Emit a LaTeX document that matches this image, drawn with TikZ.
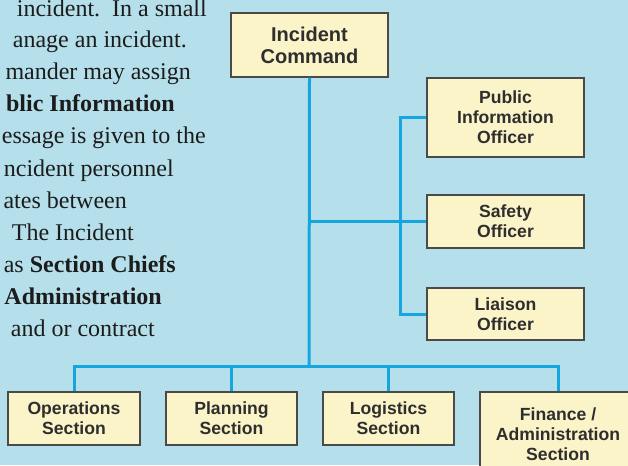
\documentclass[tikz,border=0pt]{standalone}
\usepackage{fontspec}
\setmainfont{Liberation Serif}
\setsansfont{Liberation Sans}
\begin{document}
\begin{tikzpicture}[x=1pt,y=-1pt,
  bg/.style={fill=bgblue},
  orgbox/.style={draw=boxedge,line width=1.4pt,fill=boxfill,inner sep=0pt,align=center,
    font=\sffamily\bfseries\fontsize{17.6}{20}\selectfont,text=boxtext},
  bigbox/.style={orgbox,font=\sffamily\bfseries\fontsize{20}{22}\selectfont},
  conn/.style={draw=linkblue,line width=3pt},
  para/.style={anchor=base east,inner sep=0pt,font=\fontsize{24}{32}\selectfont,text=paratext}]
\definecolor{bgblue}{HTML}{B5E0EB}
\definecolor{boxfill}{HTML}{FBF4C9}
\definecolor{boxedge}{HTML}{4A4A48}
\definecolor{boxtext}{HTML}{2E2E2E}
\definecolor{linkblue}{HTML}{15A6E0}
\definecolor{paratext}{HTML}{1C1C1C}
\useasboundingbox (0,0) rectangle (628,465);
\fill[bg] (0,0) rectangle (628,465);

% paragraph fragments
\node[para] (p1) at (207,17) {incident.\enspace In a small};
\node[para] (p2) at (187,48) {anage an incident.};
\node[para] (p3) at (191,80) {mander may assign};
\node[para] (p4) at (175,112) {\bfseries blic Information};
\node[para] (p5) at (206,144) {essage is given to the};
\node[para] (p6) at (174,176) {ncident personnel};
\node[para] (p7) at (127,208) {ates between};
\node[para] (p8) at (134,240) {The Incident};
\node[para] (p9) at (176,272) {as \bfseries Section Chiefs};
\node[para] (p10) at (162,304) {\bfseries Administration};
\node[para] (p11) at (155,336) {and or contract};

% boxes
\node[bigbox,minimum width=157,minimum height=64] (ic) at (309.5,45) {Incident\\Command};
\node[orgbox,minimum width=157,minimum height=79] (pio) at (505.5,117.5) {Public\\Information\\Officer};
\node[orgbox,minimum width=157,minimum height=53] (saf) at (505.5,221.5) {Safety\\Officer};
\node[orgbox,minimum width=157,minimum height=52] (lia) at (505.5,314) {Liaison\\Officer};
\node[orgbox,minimum width=132,minimum height=53] (ops) at (74,418.5) {Operations\\Section};
\node[orgbox,minimum width=131,minimum height=53] (plan) at (231.5,418.5) {Planning\\Section};
\node[orgbox,minimum width=131,minimum height=53] (logi) at (388.5,418.5) {Logistics\\Section};
\node[orgbox,minimum width=156,minimum height=84] (fin) at (558,434) {Finance /\\Administration\\Section};

% connectors
\coordinate (hub) at (309,366);
\coordinate (sj) at (309,221.5);
\draw[conn] (ic.south) -- (hub);
\draw[conn] (sj) -- (saf.west);
\draw[conn] (pio.west) -- ++(-26,0) |- (lia.west);
\draw[conn] (ops.north) |- (hub) -| (fin.north);
\draw[conn] (plan.north) -- (plan.north |- hub);
\draw[conn] (logi.north) -- (logi.north |- hub);
\end{tikzpicture}
\end{document}
